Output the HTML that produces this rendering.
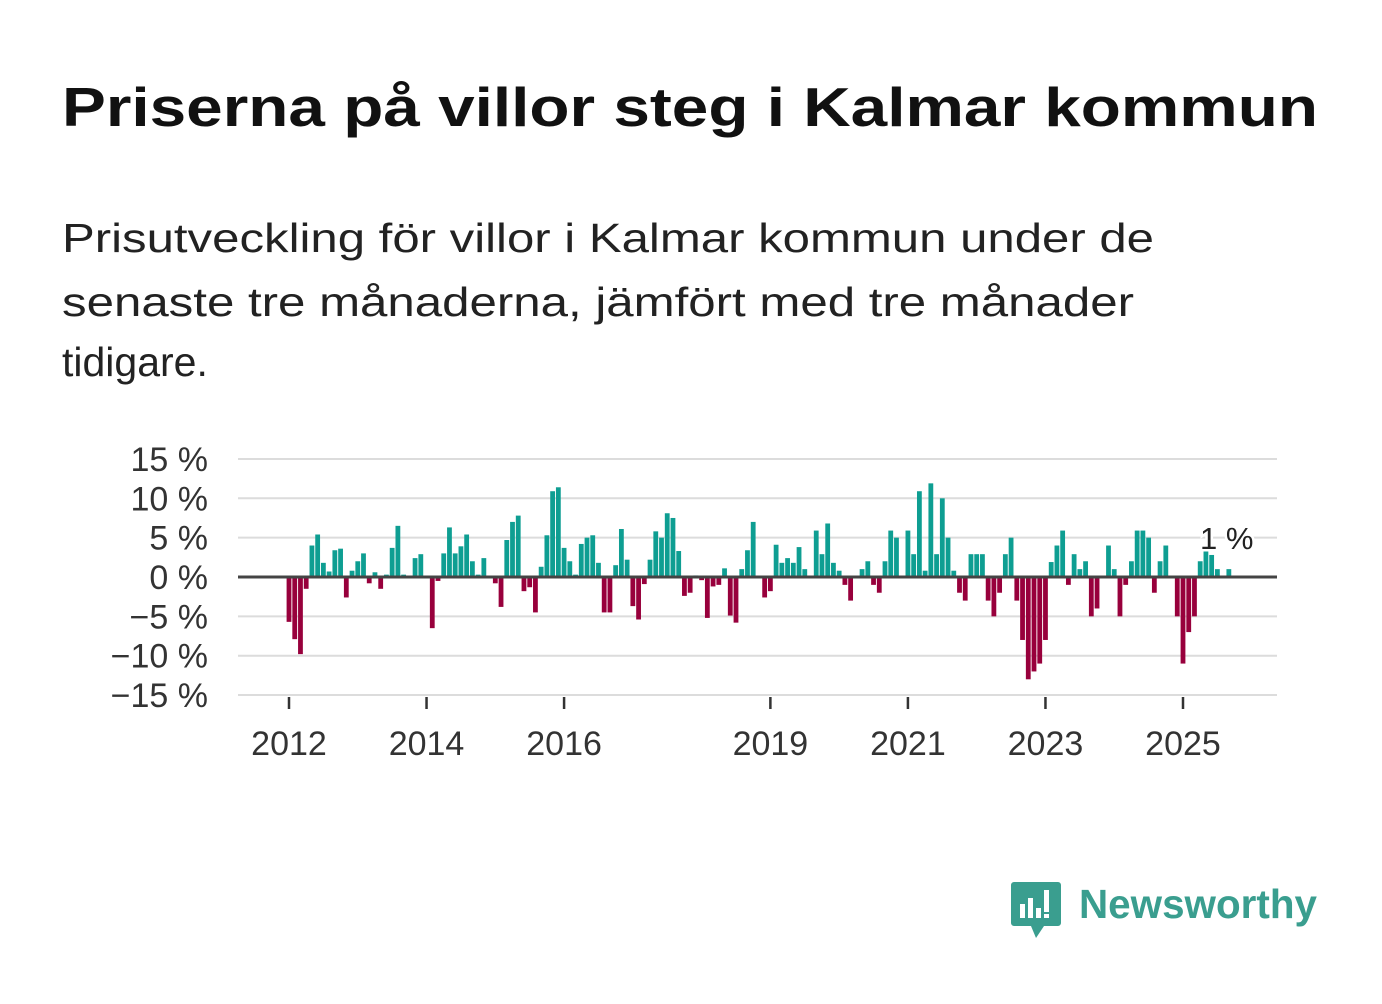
<!DOCTYPE html>
<html><head><meta charset="utf-8"><style>
body{margin:0;background:#fff;width:1382px;height:999px;overflow:hidden;font-family:"Liberation Sans",sans-serif;}
</style></head><body>
<svg width="1382" height="999" xmlns="http://www.w3.org/2000/svg">
<text x="62" y="126" font-size="55" font-weight="bold" fill="#111" textLength="1256" lengthAdjust="spacingAndGlyphs">Priserna på villor steg i Kalmar kommun</text>
<g font-size="41" fill="#222">
<text x="62" y="252" textLength="1092" lengthAdjust="spacingAndGlyphs">Prisutveckling för villor i Kalmar kommun under de</text>
<text x="62" y="316" textLength="1072" lengthAdjust="spacingAndGlyphs">senaste tre månaderna, jämfört med tre månader</text>
<text x="62" y="376">tidigare.</text>
</g>
<g id="grid"></g>
<g id="bars"></g>
<g id="axes"></g>
<g>
<path d="M1014 882 h44 a3 3 0 0 1 3 3 v38 a3 3 0 0 1 -3 3 h-14 l-8 12 l-5 -12 h-17 a3 3 0 0 1 -3 -3 v-38 a3 3 0 0 1 3 -3z" fill="#3a9e8f"/>
<rect x="1020" y="904" width="5" height="14" fill="#fff"/><rect x="1028" y="898" width="5" height="20" fill="#fff"/><rect x="1036" y="908" width="5" height="10" fill="#fff"/><rect x="1044" y="890" width="5" height="22" fill="#fff"/><rect x="1044" y="914" width="5" height="4" fill="#fff"/>
<text x="1079" y="918" font-size="41" font-weight="bold" fill="#3a9e8f" textLength="238" lengthAdjust="spacingAndGlyphs">Newsworthy</text>
</g>
</svg>
<script>
const values=[-5.7,-7.9,-9.8,-1.5,4.0,5.4,1.8,0.7,3.4,3.6,-2.6,0.8,2.0,3.0,-0.8,0.6,-1.5,0.3,3.7,6.5,0.3,0,2.4,2.9,0.1,-6.5,-0.5,3.0,6.3,3.0,3.9,5.4,2.0,0.3,2.4,0,-0.8,-3.8,4.7,7.0,7.8,-1.8,-1.3,-4.5,1.3,5.3,10.9,11.4,3.7,2.0,0.3,
4.2,5.0,5.3,1.8,-4.5,-4.5,1.5,6.1,2.2,-3.7,-5.4,-0.9,2.2,5.8,5.0,8.1,7.5,3.3,-2.4,-2.0,0.2,-0.4,-5.2,-1.2,-1.0,1.1,-4.9,-5.8,1.0,3.4,7.0,0,-2.6,-1.8,4.1,1.8,2.4,1.8,3.8,1.0,0,5.9,2.9,6.8,1.8,0.8,-1.0,-3.0,0,1.0,2.0,-1.0,-2.0,2.0,5.9,5.0,0,5.9,2.9,10.9,0.8,11.9,2.9,10.0,
5.0,0.8,-2,-3,2.9,2.9,2.9,-3,-5,-2,2.9,5,-3,-8,-13,-12,-11,-8,1.9,4,5.9,-1,2.9,1,2,-5,-4,0,4,1,-5,-1,2,5.9,5.9,5,-2,2,4,0,-5,-11,-7,-5,2,3.5,2.8,1,0,1];
const yTicks=[15,10,5,0,-5,-10,-15];
const xTickYears=[2012,2014,2016,2019,2021,2023,2025];
const startYear=2012;
const lastLabel="1 %";
const NS="http://www.w3.org/2000/svg";
const y0=577, pxPer=7.87;
function y(v){return y0-v*pxPer;}
const mW=(1183-289)/156;
function x(i){return 289+i*mW;}
function mk(tag,attrs,parent){const e=document.createElementNS(NS,tag);for(const k in attrs)e.setAttribute(k,attrs[k]);parent.appendChild(e);return e;}
const grid=document.getElementById('grid'),bars=document.getElementById('bars'),axes=document.getElementById('axes');
yTicks.forEach(t=>{
 if(t!==0){const l=mk('line',{x1:238,x2:1277,y1:y(t),y2:y(t),stroke:'#dcdcdc','stroke-width':2},grid);
 
 }
 const tx=mk('text',{x:208,y:y(t)+12,'text-anchor':'end','font-size':34,fill:'#333'},axes);
 tx.textContent=(t<0?'\u2212'+(-t):t)+' %';
 
 
});
values.forEach((v,i)=>{
 if(v===0)return;
 const r=mk('rect',{x:x(i)-2.4,width:4.8,y:Math.min(y(v),y0),height:Math.abs(y(v)-y0),fill:v>0?'#0e9e92':'#98003c'},bars);
 
 
});
const zl=mk('line',{x1:238,x2:1277,y1:y0,y2:y0,stroke:'#444','stroke-width':3},axes);


xTickYears.forEach(yr=>{
 const xx=x((yr-startYear)*12);
 const tk=mk('line',{x1:xx,x2:xx,y1:697,y2:709,stroke:'#333','stroke-width':2.5},axes);
 
 
 const tx=mk('text',{x:xx,y:755,'text-anchor':'middle','font-size':34,fill:'#333'},axes);
 tx.textContent=yr;
 
 
});
const lab=mk('text',{x:1200,y:549,'font-size':31,fill:'#222',stroke:'#fff','stroke-width':5,'paint-order':'stroke'},axes);
lab.textContent=lastLabel;


</script>
</body></html>
